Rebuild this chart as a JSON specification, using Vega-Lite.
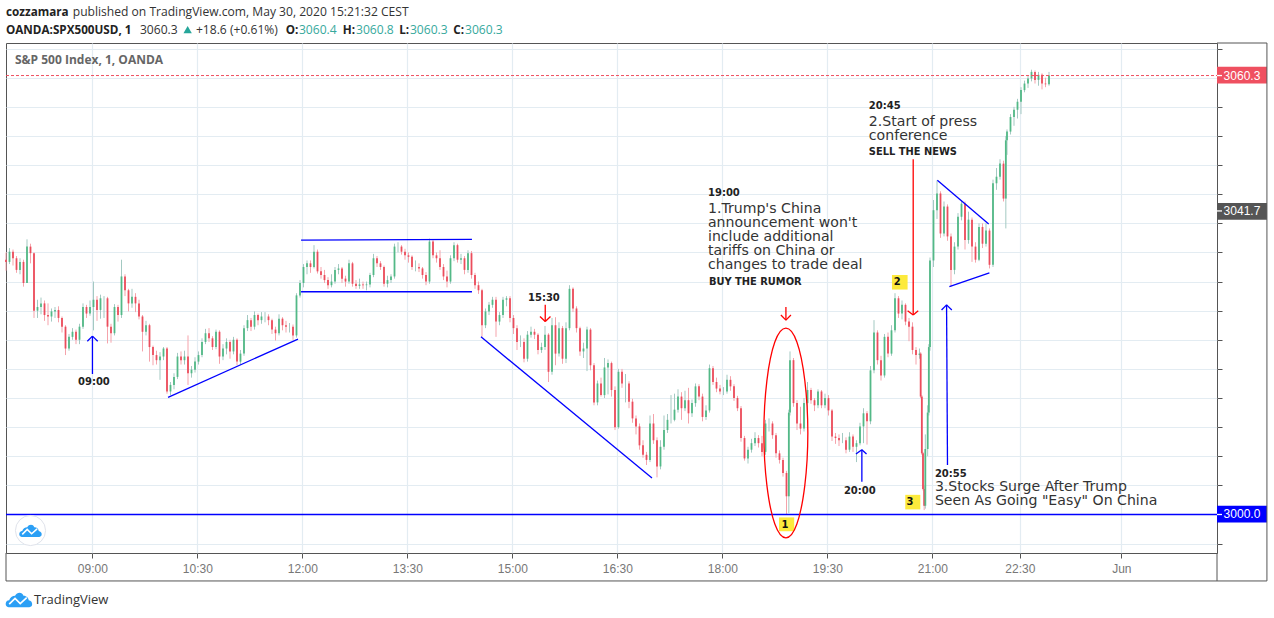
{"$schema":"https://vega.github.io/schema/vega-lite/v6.json","width":1211,"height":510,"autosize":{"type":"none"},"padding":{"left":6,"top":43,"right":57,"bottom":65},"background":"#ffffff","config":{"view":{"stroke":"#555555"}},
"datasets":{
"candles":[
{"t":0,"o":3035,"h":3036,"l":3033.5,"c":3034.7},{"t":3,"o":3034.7,"h":3036.6,"l":3034.4,"c":3036.1},{"t":6,"o":3036.1,"h":3036.4,"l":3034.2,"c":3035.2},{"t":9,"o":3035.2,"h":3035.5,"l":3033.2,"c":3033.6},{"t":12,"o":3033.6,"h":3035.2,"l":3033,"c":3034.7},{"t":15,"o":3034.7,"h":3035,"l":3031.3,"c":3031.8},{"t":18,"o":3031.8,"h":3037.8,"l":3031.8,"c":3036.8},{"t":21,"o":3036.8,"h":3037.2,"l":3034.5,"c":3035.9},{"t":24,"o":3035.9,"h":3036,"l":3027,"c":3028},{"t":27,"o":3028,"h":3029.5,"l":3027,"c":3028.5},{"t":30,"o":3028.5,"h":3029.8,"l":3027.5,"c":3029},{"t":33,"o":3029,"h":3029.4,"l":3026.6,"c":3027.4},{"t":36,"o":3027.4,"h":3029,"l":3026,"c":3027.2},{"t":39,"o":3027.2,"h":3028.3,"l":3026.5,"c":3027.9},{"t":42,"o":3027.9,"h":3028.5,"l":3027,"c":3028.1},{"t":45,"o":3028.1,"h":3028.6,"l":3026.4,"c":3027},{"t":48,"o":3027,"h":3027.2,"l":3025,"c":3025.8},{"t":51,"o":3025.8,"h":3026,"l":3021.9,"c":3022.8},{"t":54,"o":3022.8,"h":3024.8,"l":3022.5,"c":3024.4},{"t":57,"o":3024.4,"h":3025.6,"l":3024,"c":3025.1},{"t":60,"o":3025.1,"h":3025.4,"l":3023.4,"c":3024},{"t":63,"o":3024,"h":3026.2,"l":3023.4,"c":3025.8},{"t":66,"o":3025.8,"h":3029,"l":3025.5,"c":3028.5},{"t":69,"o":3028.5,"h":3028.8,"l":3027,"c":3027.6},{"t":72,"o":3027.6,"h":3029.4,"l":3027.3,"c":3028.5},{"t":75,"o":3028.5,"h":3032,"l":3025.3,"c":3029.5},{"t":78,"o":3029.5,"h":3030,"l":3026.6,"c":3028.1},{"t":81,"o":3028.1,"h":3030.2,"l":3026.9,"c":3029.7},{"t":84,"o":3029.7,"h":3030,"l":3027,"c":3029.7},{"t":87,"o":3029.7,"h":3029.9,"l":3023.5,"c":3025.8},{"t":90,"o":3025.8,"h":3026.2,"l":3023.6,"c":3024.9},{"t":93,"o":3024.9,"h":3028.9,"l":3024.6,"c":3028.5},{"t":96,"o":3028.5,"h":3028.8,"l":3026.5,"c":3027.4},{"t":99,"o":3027.4,"h":3035,"l":3027,"c":3032.7},{"t":102,"o":3032.7,"h":3033,"l":3030,"c":3030.8},{"t":105,"o":3030.8,"h":3031,"l":3027.9,"c":3029},{"t":108,"o":3029,"h":3031,"l":3028.4,"c":3029.9},{"t":111,"o":3029.9,"h":3030.4,"l":3027.8,"c":3029},{"t":114,"o":3029,"h":3029.5,"l":3026.8,"c":3027.2},{"t":117,"o":3027.2,"h":3027.4,"l":3022.4,"c":3025.1},{"t":120,"o":3025.1,"h":3026.6,"l":3024.6,"c":3026},{"t":123,"o":3026,"h":3026.2,"l":3021,"c":3023},{"t":126,"o":3023,"h":3023.2,"l":3020.5,"c":3021.9},{"t":129,"o":3021.9,"h":3022.5,"l":3020.6,"c":3021.2},{"t":132,"o":3021.2,"h":3022.3,"l":3018.5,"c":3021.7},{"t":135,"o":3021.7,"h":3023,"l":3021.2,"c":3022.8},{"t":138,"o":3022.8,"h":3023,"l":3016.6,"c":3016.9},{"t":141,"o":3016.9,"h":3018.2,"l":3016.4,"c":3017.8},{"t":144,"o":3017.8,"h":3019.4,"l":3017.2,"c":3018.9},{"t":147,"o":3018.9,"h":3022.2,"l":3018.6,"c":3021.7},{"t":150,"o":3021.7,"h":3022.4,"l":3020.6,"c":3021.2},{"t":153,"o":3021.2,"h":3022.5,"l":3020.6,"c":3021.7},{"t":156,"o":3021.7,"h":3024.6,"l":3017.8,"c":3019.4},{"t":159,"o":3019.4,"h":3020.4,"l":3018.8,"c":3019.9},{"t":162,"o":3019.9,"h":3021.6,"l":3019.5,"c":3021},{"t":165,"o":3021,"h":3022.4,"l":3020.6,"c":3021.9},{"t":168,"o":3021.9,"h":3024.2,"l":3021.6,"c":3023.7},{"t":171,"o":3023.7,"h":3025.5,"l":3023.4,"c":3024.9},{"t":174,"o":3024.9,"h":3025.6,"l":3023.7,"c":3024.2},{"t":177,"o":3024.2,"h":3024.5,"l":3022.6,"c":3023},{"t":180,"o":3023,"h":3025.4,"l":3022.7,"c":3025.1},{"t":183,"o":3025.1,"h":3025.3,"l":3020.7,"c":3021.7},{"t":186,"o":3021.7,"h":3023.4,"l":3021.2,"c":3022.8},{"t":189,"o":3022.8,"h":3024.2,"l":3022,"c":3023.7},{"t":192,"o":3023.7,"h":3024,"l":3021.4,"c":3022.4},{"t":195,"o":3022.4,"h":3024.4,"l":3022,"c":3024},{"t":198,"o":3024,"h":3024.2,"l":3020.5,"c":3021},{"t":201,"o":3021,"h":3022.6,"l":3020.6,"c":3022.1},{"t":204,"o":3022.1,"h":3026,"l":3021.8,"c":3025.6},{"t":207,"o":3025.6,"h":3027.4,"l":3025.2,"c":3026.7},{"t":210,"o":3026.7,"h":3027,"l":3025.2,"c":3025.8},{"t":213,"o":3025.8,"h":3027.9,"l":3025.4,"c":3027.4},{"t":216,"o":3027.4,"h":3027.6,"l":3026,"c":3026.7},{"t":219,"o":3026.7,"h":3027.8,"l":3026.2,"c":3027.2},{"t":222,"o":3027.2,"h":3027.8,"l":3026.4,"c":3027.2},{"t":225,"o":3027.2,"h":3027.5,"l":3026,"c":3026.7},{"t":228,"o":3026.7,"h":3026.9,"l":3024.8,"c":3025.4},{"t":231,"o":3025.4,"h":3025.8,"l":3023.9,"c":3024.9},{"t":234,"o":3024.9,"h":3027.5,"l":3024.6,"c":3026.9},{"t":237,"o":3026.9,"h":3027.1,"l":3025.3,"c":3026},{"t":240,"o":3026,"h":3026.6,"l":3025,"c":3025.8},{"t":243,"o":3025.8,"h":3026.3,"l":3025,"c":3025.8},{"t":246,"o":3025.8,"h":3026.1,"l":3024,"c":3024.6},{"t":249,"o":3024.6,"h":3030.4,"l":3024.3,"c":3030.1},{"t":252,"o":3030.1,"h":3032.2,"l":3029.8,"c":3031.8},{"t":255,"o":3031.8,"h":3034.4,"l":3031.2,"c":3034},{"t":258,"o":3034,"h":3034.9,"l":3033,"c":3034.5},{"t":261,"o":3034.5,"h":3034.9,"l":3033.2,"c":3034},{"t":264,"o":3034,"h":3037,"l":3033.8,"c":3036.1},{"t":267,"o":3036.1,"h":3036.4,"l":3033.1,"c":3033.4},{"t":270,"o":3033.4,"h":3034,"l":3032.4,"c":3032.9},{"t":273,"o":3032.9,"h":3033.6,"l":3031.8,"c":3032.2},{"t":276,"o":3032.2,"h":3032.6,"l":3031,"c":3031.5},{"t":279,"o":3031.5,"h":3033,"l":3031.2,"c":3032},{"t":282,"o":3032,"h":3034,"l":3031.7,"c":3033.6},{"t":285,"o":3033.6,"h":3034.4,"l":3033,"c":3033.8},{"t":288,"o":3033.8,"h":3034,"l":3031.8,"c":3032.4},{"t":291,"o":3032.4,"h":3032.8,"l":3031.3,"c":3032},{"t":294,"o":3032,"h":3035,"l":3031.7,"c":3034.5},{"t":297,"o":3034.5,"h":3034.7,"l":3031.3,"c":3031.7},{"t":300,"o":3031.7,"h":3032.2,"l":3031,"c":3031.4},{"t":303,"o":3031.4,"h":3032.4,"l":3031,"c":3031.6},{"t":306,"o":3031.6,"h":3032,"l":3031,"c":3031.5},{"t":309,"o":3031.5,"h":3032,"l":3030.8,"c":3031.6},{"t":312,"o":3031.6,"h":3033.2,"l":3031.2,"c":3032.9},{"t":315,"o":3032.9,"h":3035.8,"l":3032.6,"c":3035.2},{"t":318,"o":3035.2,"h":3035.5,"l":3034,"c":3034.5},{"t":321,"o":3034.5,"h":3034.8,"l":3033.6,"c":3034},{"t":324,"o":3034,"h":3034.2,"l":3031.3,"c":3031.7},{"t":327,"o":3031.7,"h":3032.8,"l":3031.2,"c":3032.2},{"t":330,"o":3032.2,"h":3033,"l":3031.8,"c":3032.7},{"t":333,"o":3032.7,"h":3037.2,"l":3032.4,"c":3036.8},{"t":336,"o":3036.8,"h":3037.4,"l":3036,"c":3036.8},{"t":339,"o":3036.8,"h":3037,"l":3035.7,"c":3036.1},{"t":342,"o":3036.1,"h":3036.5,"l":3035,"c":3035.6},{"t":345,"o":3035.6,"h":3036,"l":3034.6,"c":3035.4},{"t":348,"o":3035.4,"h":3035.6,"l":3033.6,"c":3034},{"t":351,"o":3034,"h":3034.9,"l":3033.4,"c":3034},{"t":354,"o":3034,"h":3034.5,"l":3033.3,"c":3033.8},{"t":357,"o":3033.8,"h":3034,"l":3032.4,"c":3032.9},{"t":360,"o":3032.9,"h":3033.3,"l":3031.5,"c":3032},{"t":363,"o":3032,"h":3037.9,"l":3031.7,"c":3037.5},{"t":366,"o":3037.5,"h":3037.7,"l":3035.2,"c":3035.6},{"t":369,"o":3035.6,"h":3036,"l":3034.6,"c":3035.2},{"t":372,"o":3035.2,"h":3036.3,"l":3033.6,"c":3034},{"t":375,"o":3034,"h":3034.4,"l":3032.2,"c":3032.7},{"t":378,"o":3032.7,"h":3033.5,"l":3031.2,"c":3032},{"t":381,"o":3032,"h":3035.6,"l":3031.7,"c":3035.2},{"t":384,"o":3035.2,"h":3037.4,"l":3034.8,"c":3037},{"t":387,"o":3037,"h":3037.2,"l":3034.6,"c":3035},{"t":390,"o":3035,"h":3035.8,"l":3034.4,"c":3035.2},{"t":393,"o":3035.2,"h":3035.5,"l":3033,"c":3033.6},{"t":396,"o":3033.6,"h":3036.3,"l":3033.2,"c":3035.9},{"t":399,"o":3035.9,"h":3036.2,"l":3032.4,"c":3032.9},{"t":402,"o":3032.9,"h":3033.2,"l":3031,"c":3031.5},{"t":405,"o":3031.5,"h":3032,"l":3030.3,"c":3030.8},{"t":408,"o":3030.8,"h":3031,"l":3024.4,"c":3026},{"t":411,"o":3026,"h":3028.3,"l":3025.6,"c":3027.9},{"t":414,"o":3027.9,"h":3029.2,"l":3027.4,"c":3028.8},{"t":417,"o":3028.8,"h":3029.9,"l":3028.4,"c":3029.5},{"t":420,"o":3029.5,"h":3029.9,"l":3024.4,"c":3026.5},{"t":423,"o":3026.5,"h":3027.8,"l":3026,"c":3027.4},{"t":426,"o":3027.4,"h":3029.9,"l":3027,"c":3029.5},{"t":429,"o":3029.5,"h":3030,"l":3028.6,"c":3029.7},{"t":432,"o":3029.7,"h":3030,"l":3026.4,"c":3027},{"t":435,"o":3027,"h":3027.4,"l":3024.8,"c":3025.6},{"t":438,"o":3025.6,"h":3026,"l":3022.6,"c":3023.7},{"t":441,"o":3023.7,"h":3024.6,"l":3023,"c":3023.7},{"t":444,"o":3023.7,"h":3024.2,"l":3020.9,"c":3021.4},{"t":447,"o":3021.4,"h":3025.2,"l":3021,"c":3024.7},{"t":450,"o":3024.7,"h":3025.8,"l":3024.3,"c":3025.1},{"t":453,"o":3025.1,"h":3025.5,"l":3024.1,"c":3024.7},{"t":456,"o":3024.7,"h":3024.9,"l":3022,"c":3022.6},{"t":459,"o":3022.6,"h":3023.6,"l":3022.2,"c":3023},{"t":462,"o":3023,"h":3025.9,"l":3022.6,"c":3024.7},{"t":465,"o":3024.7,"h":3024.9,"l":3018.2,"c":3019.6},{"t":468,"o":3019.6,"h":3027,"l":3019.2,"c":3026},{"t":471,"o":3026,"h":3027.1,"l":3020.5,"c":3022.1},{"t":474,"o":3022.1,"h":3026.4,"l":3021.7,"c":3025.6},{"t":477,"o":3025.6,"h":3025.9,"l":3020.7,"c":3021.4},{"t":480,"o":3021.4,"h":3026.4,"l":3020.8,"c":3025.6},{"t":483,"o":3025.6,"h":3031.5,"l":3025.3,"c":3031},{"t":486,"o":3031,"h":3031.2,"l":3027.8,"c":3028.3},{"t":489,"o":3028.3,"h":3028.6,"l":3025,"c":3025.6},{"t":492,"o":3025.6,"h":3025.8,"l":3021.8,"c":3022.4},{"t":495,"o":3022.4,"h":3023.6,"l":3021.5,"c":3022.8},{"t":498,"o":3022.8,"h":3025.8,"l":3019.7,"c":3025.4},{"t":501,"o":3025.4,"h":3025.6,"l":3019.8,"c":3020.5},{"t":504,"o":3020.5,"h":3020.8,"l":3015,"c":3015.4},{"t":507,"o":3015.4,"h":3018.4,"l":3015,"c":3018},{"t":510,"o":3018,"h":3018.8,"l":3016.2,"c":3016.4},{"t":513,"o":3016.4,"h":3021.5,"l":3016,"c":3020.2},{"t":516,"o":3020.2,"h":3021.3,"l":3016.5,"c":3020.8},{"t":519,"o":3020.8,"h":3021,"l":3016.2,"c":3017.1},{"t":522,"o":3017.1,"h":3017.6,"l":3011.6,"c":3012},{"t":525,"o":3012,"h":3020,"l":3011.8,"c":3019.6},{"t":528,"o":3019.6,"h":3020,"l":3017.4,"c":3018},{"t":531,"o":3018,"h":3019.3,"l":3015.4,"c":3018},{"t":534,"o":3018,"h":3018.3,"l":3014.6,"c":3015.5},{"t":537,"o":3015.5,"h":3015.9,"l":3012.6,"c":3013.2},{"t":540,"o":3013.2,"h":3013.6,"l":3011,"c":3012.1},{"t":543,"o":3012.1,"h":3012.5,"l":3008.9,"c":3009.5},{"t":546,"o":3009.5,"h":3010.2,"l":3007.8,"c":3008.2},{"t":549,"o":3008.2,"h":3008.6,"l":3006.8,"c":3007.5},{"t":552,"o":3007.5,"h":3013.6,"l":3007.2,"c":3012.5},{"t":555,"o":3012.5,"h":3013.8,"l":3009.7,"c":3010.2},{"t":558,"o":3010.2,"h":3010.6,"l":3005.1,"c":3006.6},{"t":561,"o":3006.6,"h":3010.2,"l":3006.2,"c":3009.3},{"t":564,"o":3009.3,"h":3013.6,"l":3008.9,"c":3011.6},{"t":567,"o":3011.6,"h":3013.8,"l":3011.2,"c":3013},{"t":570,"o":3013,"h":3016.4,"l":3012.5,"c":3013},{"t":573,"o":3013,"h":3016.6,"l":3012.8,"c":3014.4},{"t":576,"o":3014.4,"h":3017.2,"l":3014,"c":3016.2},{"t":579,"o":3016.2,"h":3016.8,"l":3013,"c":3014.6},{"t":582,"o":3014.6,"h":3017,"l":3014.2,"c":3015.7},{"t":585,"o":3015.7,"h":3017.4,"l":3012.5,"c":3013.9},{"t":588,"o":3013.9,"h":3015.8,"l":3013.4,"c":3015.3},{"t":591,"o":3015.3,"h":3018,"l":3014.8,"c":3017.6},{"t":594,"o":3017.6,"h":3017.9,"l":3015.7,"c":3016.2},{"t":597,"o":3016.2,"h":3016.6,"l":3012.8,"c":3013.4},{"t":600,"o":3013.4,"h":3015,"l":3013,"c":3014.3},{"t":603,"o":3014.3,"h":3020.6,"l":3014,"c":3020.1},{"t":606,"o":3020.1,"h":3020.4,"l":3017.8,"c":3018.2},{"t":609,"o":3018.2,"h":3018.8,"l":3016.8,"c":3017.3},{"t":612,"o":3017.3,"h":3017.8,"l":3016.5,"c":3016.9},{"t":615,"o":3016.9,"h":3017.5,"l":3016.4,"c":3016.9},{"t":618,"o":3016.9,"h":3019.2,"l":3016.6,"c":3018.5},{"t":621,"o":3018.5,"h":3019,"l":3017,"c":3017.6},{"t":624,"o":3017.6,"h":3017.9,"l":3015.6,"c":3016},{"t":627,"o":3016,"h":3016.3,"l":3014.2,"c":3014.6},{"t":630,"o":3014.6,"h":3014.9,"l":3010,"c":3010.5},{"t":633,"o":3010.5,"h":3010.8,"l":3007.4,"c":3007.7},{"t":636,"o":3007.7,"h":3009.3,"l":3007,"c":3008.9},{"t":639,"o":3008.9,"h":3010.4,"l":3008.5,"c":3009.8},{"t":642,"o":3009.8,"h":3011.3,"l":3009.4,"c":3010.5},{"t":645,"o":3010.5,"h":3010.9,"l":3009.2,"c":3009.8},{"t":648,"o":3009.8,"h":3010.8,"l":3008,"c":3008.6},{"t":651,"o":3008.6,"h":3013,"l":3008.2,"c":3012.5},{"t":654,"o":3012.5,"h":3013.2,"l":3011.4,"c":3012.5},{"t":657,"o":3012.5,"h":3012.8,"l":3010.4,"c":3010.9},{"t":660,"o":3010.9,"h":3011.2,"l":3007.8,"c":3008.4},{"t":663,"o":3008.4,"h":3008.8,"l":3007,"c":3007.5},{"t":666,"o":3007.5,"h":3007.8,"l":3005.2,"c":3005.7},{"t":669,"o":3005.7,"h":3006,"l":3000,"c":3002.5},{"t":671,"o":3002.5,"h":3014.4,"l":3000.2,"c":3014},{"t":672,"o":3014,"h":3022.4,"l":3013.6,"c":3021.2},{"t":675,"o":3021.2,"h":3021.5,"l":3014.8,"c":3015.3},{"t":678,"o":3015.3,"h":3015.7,"l":3011.6,"c":3012.5},{"t":681,"o":3012.5,"h":3014.8,"l":3011,"c":3011.8},{"t":684,"o":3011.8,"h":3016,"l":3011.4,"c":3015.3},{"t":687,"o":3015.3,"h":3018.2,"l":3012.6,"c":3017.1},{"t":690,"o":3017.1,"h":3017.4,"l":3015.2,"c":3015.7},{"t":693,"o":3015.7,"h":3016,"l":3014.2,"c":3015},{"t":696,"o":3015,"h":3017.2,"l":3014.6,"c":3016.9},{"t":699,"o":3016.9,"h":3017.1,"l":3014.6,"c":3015},{"t":702,"o":3015,"h":3016.6,"l":3014.6,"c":3016},{"t":705,"o":3016,"h":3016.4,"l":3013.6,"c":3014.3},{"t":708,"o":3014.3,"h":3014.5,"l":3010.1,"c":3010.7},{"t":711,"o":3010.7,"h":3011.2,"l":3009.7,"c":3010.5},{"t":714,"o":3010.5,"h":3011,"l":3009.4,"c":3010.2},{"t":717,"o":3010.2,"h":3011.2,"l":3009.8,"c":3010.2},{"t":720,"o":3010.2,"h":3010.6,"l":3008.4,"c":3008.9},{"t":723,"o":3008.9,"h":3011.3,"l":3008.6,"c":3010.7},{"t":726,"o":3010.7,"h":3011,"l":3008.6,"c":3009.3},{"t":729,"o":3009.3,"h":3010.2,"l":3007.2,"c":3009.8},{"t":732,"o":3009.8,"h":3012.6,"l":3009.5,"c":3012.1},{"t":735,"o":3012.1,"h":3014.6,"l":3009.8,"c":3013.9},{"t":738,"o":3013.9,"h":3014.2,"l":3009.6,"c":3012.8},{"t":741,"o":3012.8,"h":3020.4,"l":3012.4,"c":3019.8},{"t":744,"o":3019.8,"h":3026.7,"l":3019.4,"c":3025},{"t":747,"o":3025,"h":3025.3,"l":3020.6,"c":3021.2},{"t":750,"o":3021.2,"h":3021.8,"l":3018.4,"c":3019.1},{"t":753,"o":3019.1,"h":3024.8,"l":3018.8,"c":3024.4},{"t":756,"o":3024.4,"h":3025,"l":3021.6,"c":3022.1},{"t":759,"o":3022.1,"h":3026,"l":3021.8,"c":3025.3},{"t":762,"o":3025.3,"h":3030.4,"l":3025,"c":3029.7},{"t":765,"o":3029.7,"h":3030,"l":3027,"c":3027.6},{"t":768,"o":3027.6,"h":3029.4,"l":3026.8,"c":3028.8},{"t":771,"o":3028.8,"h":3029,"l":3026,"c":3026.5},{"t":774,"o":3026.5,"h":3027,"l":3023.8,"c":3025.8},{"t":777,"o":3025.8,"h":3026.4,"l":3022,"c":3022.6},{"t":780,"o":3022.6,"h":3023,"l":3020.6,"c":3021.9},{"t":783,"o":3021.9,"h":3022.8,"l":3021.4,"c":3022.1},{"t":784,"o":3022.1,"h":3022.3,"l":3016,"c":3016.2},{"t":785,"o":3016.2,"h":3016.4,"l":3008.2,"c":3008.4},{"t":786,"o":3008.4,"h":3008.6,"l":3003.3,"c":3003.5},{"t":787,"o":3003.5,"h":3004,"l":3000.6,"c":3001.2},{"t":788,"o":3001.2,"h":3011,"l":3000.8,"c":3009},{"t":790,"o":3009,"h":3015,"l":3008,"c":3014},{"t":791,"o":3014,"h":3023.4,"l":3013.6,"c":3023},{"t":792,"o":3023,"h":3035.3,"l":3022.5,"c":3034.9},{"t":795,"o":3034.9,"h":3043.2,"l":3034,"c":3041.8},{"t":798,"o":3041.8,"h":3045.9,"l":3040.6,"c":3044.1},{"t":801,"o":3044.1,"h":3044.4,"l":3038,"c":3038.6},{"t":804,"o":3038.6,"h":3043,"l":3038.2,"c":3042.3},{"t":807,"o":3042.3,"h":3042.6,"l":3037.6,"c":3038.2},{"t":810,"o":3038.2,"h":3038.6,"l":3031.3,"c":3033.6},{"t":813,"o":3033.6,"h":3037.4,"l":3033,"c":3036.8},{"t":816,"o":3036.8,"h":3041.4,"l":3036.4,"c":3040.9},{"t":819,"o":3040.9,"h":3043.2,"l":3040.4,"c":3042.7},{"t":822,"o":3042.7,"h":3043,"l":3036.4,"c":3037.7},{"t":825,"o":3037.7,"h":3041.6,"l":3037.2,"c":3040.5},{"t":828,"o":3040.5,"h":3040.8,"l":3034.7,"c":3036.8},{"t":831,"o":3036.8,"h":3037.4,"l":3034.6,"c":3035},{"t":834,"o":3035,"h":3040,"l":3034.8,"c":3039.5},{"t":837,"o":3039.5,"h":3040,"l":3036.6,"c":3037.2},{"t":840,"o":3037.2,"h":3040,"l":3036.8,"c":3039},{"t":843,"o":3039,"h":3039.3,"l":3033.8,"c":3034.3},{"t":846,"o":3034.3,"h":3046,"l":3034,"c":3045.5},{"t":849,"o":3045.5,"h":3047.6,"l":3044.6,"c":3046.4},{"t":852,"o":3046.4,"h":3048.8,"l":3046,"c":3048.2},{"t":855,"o":3048.2,"h":3048.6,"l":3043,"c":3043.4},{"t":857,"o":3043.4,"h":3052,"l":3039.3,"c":3051.4},{"t":858,"o":3051.4,"h":3052.9,"l":3049.4,"c":3052.6},{"t":861,"o":3052.6,"h":3055,"l":3052.2,"c":3054.6},{"t":864,"o":3054.6,"h":3056,"l":3053.4,"c":3055.6},{"t":867,"o":3055.6,"h":3057.1,"l":3054.4,"c":3056.7},{"t":870,"o":3056.7,"h":3058.7,"l":3055,"c":3058.3},{"t":873,"o":3058.3,"h":3059.6,"l":3058,"c":3059.2},{"t":876,"o":3059.2,"h":3060.3,"l":3058.6,"c":3059.9},{"t":879,"o":3059.9,"h":3061.1,"l":3059.5,"c":3060.8},{"t":882,"o":3060.8,"h":3061,"l":3059.2,"c":3059.7},{"t":885,"o":3059.7,"h":3060.8,"l":3058.9,"c":3060.4},{"t":888,"o":3060.4,"h":3060.6,"l":3058.4,"c":3059.2},{"t":891,"o":3059.2,"h":3060,"l":3058.7,"c":3059.1},{"t":894,"o":3059.1,"h":3060.8,"l":3058.9,"c":3060.3}
],
"dash":[{"t":0,"t2":1038,"p":3060.3,"p2":3060.3}],
"segs":[
{"t":0,"p":3000,"t2":1038,"p2":3000,"k":"blue"},
{"t":138.9,"p":3016.1,"t2":250.3,"p2":3024.1,"k":"blue"},
{"t":252.9,"p":3037.7,"t2":399.4,"p2":3037.8,"k":"blue"},
{"t":252.9,"p":3030.6,"t2":399.4,"p2":3030.6,"k":"blue"},
{"t":407.1,"p":3024.4,"t2":553.7,"p2":3005,"k":"blue"},
{"t":798.3,"p":3045.9,"t2":842.3,"p2":3039.9,"k":"blue"},
{"t":808.6,"p":3031.3,"t2":842.9,"p2":3033.2,"k":"blue"},
{"t":74.1,"p":3019.3,"t2":74.1,"p2":3024.5,"k":"blue"},{"t":69.7,"p":3023.8,"t2":74.1,"p2":3024.5,"k":"blue"},{"t":78.6,"p":3023.8,"t2":74.1,"p2":3024.5,"k":"blue"},
{"t":462.2,"p":3028.8,"t2":462.2,"p2":3026.5,"k":"red"},{"t":457.7,"p":3027.2,"t2":462.2,"p2":3026.5,"k":"red"},{"t":466.7,"p":3027.2,"t2":462.2,"p2":3026.5,"k":"red"},
{"t":668.5,"p":3028.5,"t2":668.5,"p2":3026.7,"k":"red"},{"t":664.2,"p":3027.4,"t2":668.5,"p2":3026.7,"k":"red"},{"t":672.8,"p":3027.4,"t2":668.5,"p2":3026.7,"k":"red"},
{"t":733.6,"p":3004.5,"t2":733.6,"p2":3008.9,"k":"blue"},{"t":728.5,"p":3008.3,"t2":733.6,"p2":3008.9,"k":"blue"},{"t":737.6,"p":3008.3,"t2":733.6,"p2":3008.9,"k":"blue"},
{"t":777.6,"p":3048.8,"t2":777.6,"p2":3027.4,"k":"red"},{"t":772.8,"p":3028,"t2":777.6,"p2":3027.4,"k":"red"},{"t":781.9,"p":3028,"t2":777.6,"p2":3027.4,"k":"red"},
{"t":807,"p":3006.8,"t2":806.2,"p2":3028.8,"k":"blue"},{"t":801.9,"p":3028.1,"t2":806.2,"p2":3028.8,"k":"blue"},{"t":810.7,"p":3028.1,"t2":806.2,"p2":3028.8,"k":"blue"},
{"t":1038,"p":3060.3,"t2":1042.3,"p2":3060.3,"k":"white"},{"t":1038,"p":3041.7,"t2":1042.3,"p2":3041.7,"k":"white"},{"t":1038,"p":3000,"t2":1042.3,"p2":3000,"k":"white"}
],
"frame":[
{"t":1038,"p":3064.77,"t2":1080.8,"p2":3064.77},{"t":1080.8,"p":3064.77,"t2":1080.8,"p2":2990.87},{"t":0,"p":2990.87,"t2":1080.8,"p2":2990.87},{"t":0,"p":2994.71,"t2":0,"p2":2990.87},{"t":1038,"p":2994.71,"t2":1038,"p2":2990.87}
],
"ellipse":[
{"n":1,"t":687.3,"p":3011.2},{"n":2,"t":684.7,"p":3004},{"n":3,"t":677.9,"p":2998.7},{"n":4,"t":668.5,"p":2996.8},{"n":5,"t":659,"p":2998.7},{"n":6,"t":652.2,"p":3004},{"n":7,"t":649.6,"p":3011.2},{"n":8,"t":652.2,"p":3018.4},{"n":9,"t":659,"p":3023.7},{"n":10,"t":668.5,"p":3025.6},{"n":11,"t":677.9,"p":3023.7},{"n":12,"t":684.7,"p":3018.4}
],
"boxes":[
{"t":662.6,"t2":675.6,"p":2999.6,"p2":2997.7,"k":"yellow"},{"t":759.4,"t2":772.8,"p":3032.9,"p2":3030.9,"k":"yellow"},{"t":770.8,"t2":783.7,"p":3002.7,"p2":3000.7,"k":"yellow"},
{"t":1038,"t2":1080.8,"p":3061.5,"p2":3059.2,"k":"last"},{"t":1038,"t2":1080.8,"p":3042.8,"p2":3040.5,"k":"prev"},{"t":1038,"t2":1080.8,"p":3001.2,"p2":2998.9,"k":"level"}
],
"labels":[
{"k":"big","t":601.7,"p":3042.1,"s":"1.Trump's China"},{"k":"big","t":601.7,"p":3040.2,"s":"announcement won't"},{"k":"big","t":601.7,"p":3038.3,"s":"include additional"},{"k":"big","t":601.7,"p":3036.3,"s":"tariffs on China or"},{"k":"big","t":601.7,"p":3034.4,"s":"changes to trade deal"},
{"k":"big","t":739.6,"p":3054.1,"s":"2.Start of press"},{"k":"big","t":739.6,"p":3052.1,"s":"conference"},
{"k":"big","t":796.2,"p":3003.9,"s":"3.Stocks Surge After Trump"},{"k":"big","t":796.2,"p":3002,"s":"Seen As Going \"Easy\" On China"},
{"k":"time","t":601.7,"p":3044.3,"s":"19:00"},{"k":"time","t":739.6,"p":3056.2,"s":"20:45"},{"k":"time","t":447.4,"p":3029.9,"s":"15:30"},{"k":"time","t":61.7,"p":3018.3,"s":"09:00"},{"k":"time","t":718.2,"p":3003.4,"s":"20:00"},{"k":"time","t":796.2,"p":3005.7,"s":"20:55"},
{"k":"cap","t":602.5,"p":3031.9,"s":"BUY THE RUMOR"},{"k":"cap","t":739.6,"p":3049.8,"s":"SELL THE NEWS"},
{"k":"num","t":667.6,"p":2998.6,"s":"1"},{"k":"num","t":763.9,"p":3031.9,"s":"2"},{"k":"num","t":774.8,"p":3001.7,"s":"3"},
{"k":"hb","t":0,"p":3069,"s":"cozzamara"},{"k":"hn","t":57.2,"p":3069,"s":"published on TradingView.com, May 30, 2020 15:21:32 CEST"},
{"k":"hb","t":0,"p":3066.6,"s":"OANDA:SPX500USD, 1"},{"k":"hn","t":114.8,"p":3066.6,"s":"3060.3"},{"k":"hn","t":162.8,"p":3066.6,"s":"+18.6 (+0.61%)"},
{"k":"hb","t":239.7,"p":3066.6,"s":"O:"},{"k":"ht","t":251.1,"p":3066.6,"s":"3060.4"},{"k":"hb","t":288.6,"p":3066.6,"s":"H:"},{"k":"ht","t":300,"p":3066.6,"s":"3060.8"},{"k":"hb","t":337,"p":3066.6,"s":"L:"},{"k":"ht","t":346.2,"p":3066.6,"s":"3060.3"},{"k":"hb","t":383.4,"p":3066.6,"s":"C:"},{"k":"ht","t":393.4,"p":3066.6,"s":"3060.3"},
{"k":"legend","t":7.7,"p":3062.4,"s":"S&P 500 Index, 1, OANDA"},
{"k":"tag","t":1059.4,"p":3060.3,"s":"3060.3"},{"k":"tag","t":1059.4,"p":3041.7,"s":"3041.7"},{"k":"tag","t":1059.4,"p":3000,"s":"3000.0"},
{"k":"brand","t":24,"p":2988.3,"s":"TradingView"},
{"k":"tri","t":155.7,"p":3066.6},{"k":"ring","t":21,"p":2997.8},{"k":"cloudS","t":21,"p":2997.8},{"k":"cloudL","t":11.1,"p":2988.3}
]
},
"encoding":{
"x":{"field":"t","type":"quantitative","scale":{"domain":[0,1038],"nice":false,"zero":false},"axis":{"title":null,"values":[74,164,254,344,434,524,614,704,794,869,956],"labelExpr":"{'74':'09:00','164':'10:30','254':'12:00','344':'13:30','434':'15:00','524':'16:30','614':'18:00','704':'19:30','794':'21:00','869':'22:30','956':'Jun'}[datum.value]","grid":true,"gridColor":"#e3ecf2","gridWidth":1.2,"domain":false,"tickColor":"#555555","tickSize":5,"labelColor":"#777777","labelFont":"Liberation Sans","labelFontSize":12,"labelPadding":5,"labelFlush":false,"labelOverlap":false}},
"y":{"field":"p","type":"quantitative","scale":{"domain":[2994.71,3064.77],"nice":false,"zero":false},"axis":{"title":null,"orient":"right","values":[2996,3000,3004,3008,3012,3016,3020,3024,3028,3032,3036,3040,3044,3048,3052,3056,3060,3064],"labels":false,"grid":true,"gridColor":"#e3ecf2","gridWidth":1.2,"domain":false,"tickColor":"#555555","tickSize":5}}
},
"layer":[
{"data":{"name":"boxes"},"mark":{"type":"rect"},"encoding":{"x2":{"field":"t2"},"y2":{"field":"p2"},"color":{"field":"k","type":"nominal","legend":null,"scale":{"domain":["yellow","last","prev","level","blue","red","white"],"range":["#fdea3c","#ef5060","#555555","#0000ff","#0000ff","#ff0000","#ffffff"]}}}},
{"data":{"name":"candles"},"mark":{"type":"rule","strokeWidth":1},"encoding":{"y":{"field":"l","type":"quantitative","scale":{"domain":[2994.71,3064.77],"nice":false,"zero":false},"axis":{"title":null,"orient":"right","values":[2996,3000,3004,3008,3012,3016,3020,3024,3028,3032,3036,3040,3044,3048,3052,3056,3060,3064],"labels":false,"grid":true,"gridColor":"#e3ecf2","gridWidth":1.2,"domain":false,"tickColor":"#555555","tickSize":5}},"y2":{"field":"h"},"color":{"condition":{"test":"datum.c>=datum.o","value":"#a3c9c2"},"value":"#f5a3ab"}}},
{"data":{"name":"candles"},"mark":{"type":"rule","strokeWidth":1.8},"encoding":{"y":{"field":"o","type":"quantitative","scale":{"domain":[2994.71,3064.77],"nice":false,"zero":false},"axis":{"title":null,"orient":"right","values":[2996,3000,3004,3008,3012,3016,3020,3024,3028,3032,3036,3040,3044,3048,3052,3056,3060,3064],"labels":false,"grid":true,"gridColor":"#e3ecf2","gridWidth":1.2,"domain":false,"tickColor":"#555555","tickSize":5}},"y2":{"field":"c"},"color":{"condition":{"test":"datum.c>=datum.o","value":"#53b987"},"value":"#eb4d5c"}}},
{"data":{"name":"dash"},"mark":{"type":"rule","strokeDash":[3,2],"strokeWidth":1,"stroke":"#ef5060"},"encoding":{"x2":{"field":"t2"},"y2":{"field":"p2"}}},
{"data":{"name":"segs"},"mark":{"type":"rule","strokeWidth":1.3},"encoding":{"x2":{"field":"t2"},"y2":{"field":"p2"},"color":{"field":"k","type":"nominal","legend":null,"scale":{"domain":["yellow","last","prev","level","blue","red","white"],"range":["#fdea3c","#ef5060","#555555","#0000ff","#0000ff","#ff0000","#ffffff"]}}}},
{"data":{"name":"frame"},"mark":{"type":"rule","strokeWidth":1,"stroke":"#555555"},"encoding":{"x2":{"field":"t2"},"y2":{"field":"p2"}}},
{"data":{"name":"ellipse"},"mark":{"type":"line","interpolate":"cardinal-closed","stroke":"#ff0000","strokeWidth":1.3},"encoding":{"order":{"field":"n"}}},
{"data":{"name":"labels"},"transform":[{"filter":"datum.k=='ring'"}],"mark":{"type":"point","shape":"circle","size":908,"filled":true,"fill":"#ffffff","stroke":"#e0e3eb","strokeWidth":1,"opacity":1}},
{"data":{"name":"labels"},"transform":[{"filter":"datum.k=='cloudS'"}],"mark":{"type":"point","shape":"M-0.8,0.58 C-1.1,0.58 -1.1,0.05 -0.75,0.05 C-0.7,-0.15 -0.5,-0.3 -0.3,-0.3 C-0.15,-0.6 0.25,-0.6 0.35,-0.3 C0.6,-0.3 0.75,-0.1 0.75,0.05 C1.1,0.1 1.1,0.58 0.8,0.58 Z","size":484,"filled":true,"color":"#2b9ff5","opacity":1}},
{"data":{"name":"labels"},"transform":[{"filter":"datum.k=='cloudS'"}],"mark":{"type":"point","shape":"M-0.75,0.35 L-0.3,-0.1 L0.1,0.3 L0.6,-0.15","size":484,"filled":false,"stroke":"#ffffff","strokeWidth":1.5,"opacity":1}},
{"data":{"name":"labels"},"transform":[{"filter":"datum.k=='cloudL'"}],"mark":{"type":"point","shape":"M-0.8,0.58 C-1.1,0.58 -1.1,0.05 -0.75,0.05 C-0.7,-0.15 -0.5,-0.3 -0.3,-0.3 C-0.15,-0.6 0.25,-0.6 0.35,-0.3 C0.6,-0.3 0.75,-0.1 0.75,0.05 C1.1,0.1 1.1,0.58 0.8,0.58 Z","size":676,"filled":true,"color":"#2b9ff5","opacity":1}},
{"data":{"name":"labels"},"transform":[{"filter":"datum.k=='cloudL'"}],"mark":{"type":"point","shape":"M-0.75,0.35 L-0.3,-0.1 L0.1,0.3 L0.6,-0.15","size":676,"filled":false,"stroke":"#ffffff","strokeWidth":1.7,"opacity":1}},
{"data":{"name":"labels"},"transform":[{"filter":"datum.k=='tri'"}],"mark":{"type":"point","shape":"triangle-up","size":70,"filled":true,"color":"#26a69a","opacity":1}},
{"data":{"name":"labels"},"transform":[{"filter":"datum.k=='big'"}],"mark":{"type":"text","font":"DejaVu Sans","fontSize":14.1,"dy":1,"align":"left","baseline":"middle","color":"#333333"},"encoding":{"text":{"field":"s"}}},
{"data":{"name":"labels"},"transform":[{"filter":"datum.k=='time'"}],"mark":{"type":"text","font":"DejaVu Sans","fontSize":10,"dy":1,"fontWeight":"bold","align":"left","baseline":"middle","color":"#222222"},"encoding":{"text":{"field":"s"}}},
{"data":{"name":"labels"},"transform":[{"filter":"datum.k=='cap'"}],"mark":{"type":"text","font":"DejaVu Sans","fontSize":9.9,"fontWeight":"bold","align":"left","baseline":"middle","color":"#222222"},"encoding":{"text":{"field":"s"}}},
{"data":{"name":"labels"},"transform":[{"filter":"datum.k=='num'"}],"mark":{"type":"text","font":"DejaVu Sans","fontSize":10,"fontWeight":"bold","align":"center","baseline":"middle","color":"#111111"},"encoding":{"text":{"field":"s"}}},
{"data":{"name":"labels"},"transform":[{"filter":"datum.k=='hb'"}],"mark":{"type":"text","font":"Open Sans","fontSize":11.7,"fontWeight":"bold","align":"left","baseline":"middle","color":"#222222"},"encoding":{"text":{"field":"s"}}},
{"data":{"name":"labels"},"transform":[{"filter":"datum.k=='hn'"}],"mark":{"type":"text","font":"Open Sans","fontSize":12.1,"align":"left","baseline":"middle","color":"#333333"},"encoding":{"text":{"field":"s"}}},
{"data":{"name":"labels"},"transform":[{"filter":"datum.k=='ht'"}],"mark":{"type":"text","font":"Open Sans","fontSize":12.1,"align":"left","baseline":"middle","color":"#37a99d"},"encoding":{"text":{"field":"s"}}},
{"data":{"name":"labels"},"transform":[{"filter":"datum.k=='legend'"}],"mark":{"type":"text","font":"Open Sans","fontSize":12,"fontWeight":"bold","align":"left","baseline":"middle","color":"#666666"},"encoding":{"text":{"field":"s"}}},
{"data":{"name":"labels"},"transform":[{"filter":"datum.k=='tag'"}],"mark":{"type":"text","font":"Liberation Sans","fontSize":12,"align":"center","baseline":"middle","color":"#ffffff"},"encoding":{"text":{"field":"s"}}},
{"data":{"name":"labels"},"transform":[{"filter":"datum.k=='brand'"}],"mark":{"type":"text","font":"Open Sans","fontSize":13,"align":"left","baseline":"middle","color":"#333333"},"encoding":{"text":{"field":"s"}}}
]
}
